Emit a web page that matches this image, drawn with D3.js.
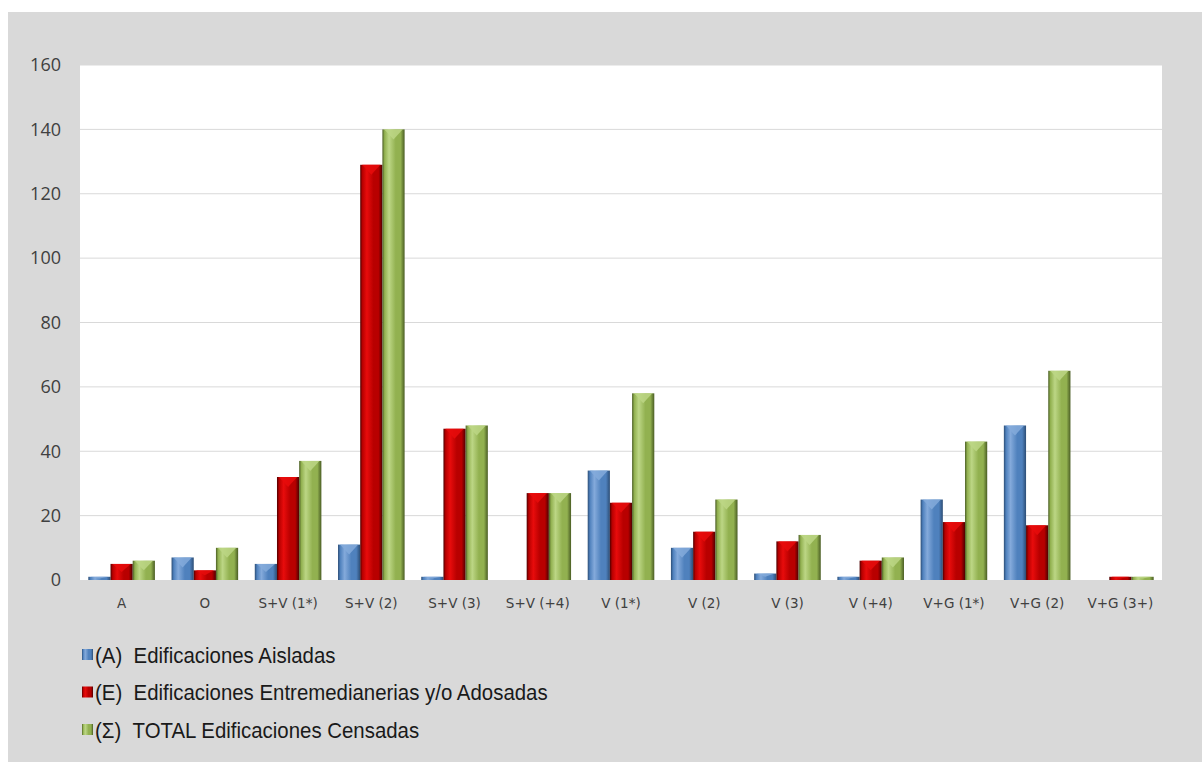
<!DOCTYPE html>
<html lang="es">
<head>
<meta charset="UTF-8">
<title>Edificaciones censadas</title>
<script src="https://d3js.org/d3.v7.min.js"></script>
<style>
    body { margin: 0; background: #fff; }
    svg { display: block; }
    .axis-x text { font-family: "DejaVu Sans", sans-serif; font-size: 13.5px; fill: #404040; }
    .axis-y text { font-family: "Open Sans", sans-serif; font-size: 18px; fill: #404040; }
    .legend text { font-family: "Liberation Sans", Arial, sans-serif; font-size: 21.5px; fill: #1a1a1a; white-space: pre; }
</style>
</head>
<body>
<svg id="chart" width="1202" height="762"></svg>
<script>
// datos
const categorias = ["A", "O", "S+V (1*)", "S+V (2)", "S+V (3)", "S+V (+4)", "V (1*)", "V (2)", "V (3)", "V (+4)", "V+G (1*)", "V+G (2)", "V+G (3+)"];
const aisladas =      [1, 7, 5, 11, 1, 0, 34, 10, 2, 1, 25, 48, 0];
const entremedianeras = [5, 3, 32, 129, 47, 27, 24, 15, 12, 6, 18, 17, 1];
const totalCensadas = [6, 10, 37, 140, 48, 27, 58, 25, 14, 7, 43, 65, 1];
const yTicks = [0, 20, 40, 60, 80, 100, 120, 140, 160];
const leyenda = ["(A)  Edificaciones Aisladas", "(E)  Edificaciones Entremedianerias y/o Adosadas", "(\u03A3)  TOTAL Edificaciones Censadas"];

const series = [
    { key: "A", values: aisladas, base: "#4f81bd", light: "#84aadb", dark: "#2c4d75" },
    { key: "E", values: entremedianeras, base: "#b80000", light: "#e80c0c", dark: "#4f0000" },
    { key: "T", values: totalCensadas, base: "#92b150", light: "#bcd685", dark: "#4a5d24" }
];

const svg = d3.select("#chart");

// fondo
svg.append("rect").attr("x", 8).attr("y", 12).attr("width", 1194).attr("height", 750).attr("fill", "#d9d9d9");

const plot = { left: 80, right: 1162, top: 65, bottom: 580 };

svg.append("rect")
    .attr("x", plot.left).attr("y", plot.top)
    .attr("width", plot.right - plot.left).attr("height", plot.bottom - plot.top)
    .attr("fill", "#fff");

const x0 = d3.scaleBand().domain(categorias).range([plot.left, plot.right]).paddingInner(0.2).paddingOuter(0.1);
const x1 = d3.scaleBand().domain(series.map(s => s.key)).range([0, x0.bandwidth()]);
const y = d3.scaleLinear().domain([0, 160]).range([plot.bottom, plot.top]);

// gradientes
const defs = svg.append("defs");
series.forEach(s => {
    const g = defs.append("linearGradient").attr("id", "grad-" + s.key)
        .attr("x1", "0%").attr("x2", "100%").attr("y1", "0%").attr("y2", "0%");
    g.append("stop").attr("offset", "0%").attr("stop-color", s.dark);
    g.append("stop").attr("offset", "10%").attr("stop-color", s.base);
    g.append("stop").attr("offset", "30%").attr("stop-color", s.light);
    g.append("stop").attr("offset", "60%").attr("stop-color", s.base);
    g.append("stop").attr("offset", "82%").attr("stop-color", s.base);
    g.append("stop").attr("offset", "100%").attr("stop-color", s.dark);
});

// rejilla
svg.append("g")
    .selectAll("line")
    .data(yTicks.filter(t => t > 0))
    .join("line")
    .attr("x1", plot.left).attr("x2", plot.right)
    .attr("y1", d => y(d)).attr("y2", d => y(d))
    .attr("stroke", "#d9d9d9").attr("stroke-width", 1);

// eje y
const yAxis = svg.append("g")
    .attr("class", "axis-y")
    .attr("transform", `translate(${plot.left},0)`)
    .call(d3.axisLeft(y).tickValues(yTicks).tickSize(0).tickPadding(19));
yAxis.select(".domain").remove();

// eje x
const xAxis = svg.append("g")
    .attr("class", "axis-x")
    .attr("transform", `translate(0,${plot.bottom})`)
    .call(d3.axisBottom(x0).tickSize(0).tickPadding(18));
xAxis.select(".domain").remove();

// barras
const grupos = svg.append("g")
    .selectAll("g")
    .data(categorias)
    .join("g")
    .attr("transform", c => `translate(${x0(c)},0)`);

grupos.each(function(c, i) {
    const g = d3.select(this);
    series.forEach(s => {
        const v = s.values[i];
        if (v <= 0) return;
        const bx = x1(s.key), bw = x1.bandwidth();
        const top = y(v), h = plot.bottom - top;
        g.append("rect")
            .attr("x", bx).attr("y", top)
            .attr("width", bw).attr("height", h)
            .attr("fill", `url(#grad-${s.key})`);
        // bisel superior
        const bev = Math.min(10, h / 2);
        g.append("path")
            .attr("d", `M${bx + 2},${top} L${bx + bw - 2},${top} L${bx + bw / 2},${top + bev} Z`)
            .attr("fill", s.light).attr("opacity", 0.85);
    });
});

// leyenda
const legend = svg.append("g").attr("class", "legend");
leyenda.forEach((txt, i) => {
    const row = legend.append("g").attr("transform", `translate(82, ${655 + i * 37.5})`);
    row.append("rect")
        .attr("x", 0).attr("y", -6).attr("width", 11).attr("height", 11)
        .attr("fill", `url(#grad-${series[i].key})`);
    row.append("text")
        .attr("transform", "translate(13,7.5) scale(0.95,1)")
        .text(txt);
});
</script>
</body>
</html>
